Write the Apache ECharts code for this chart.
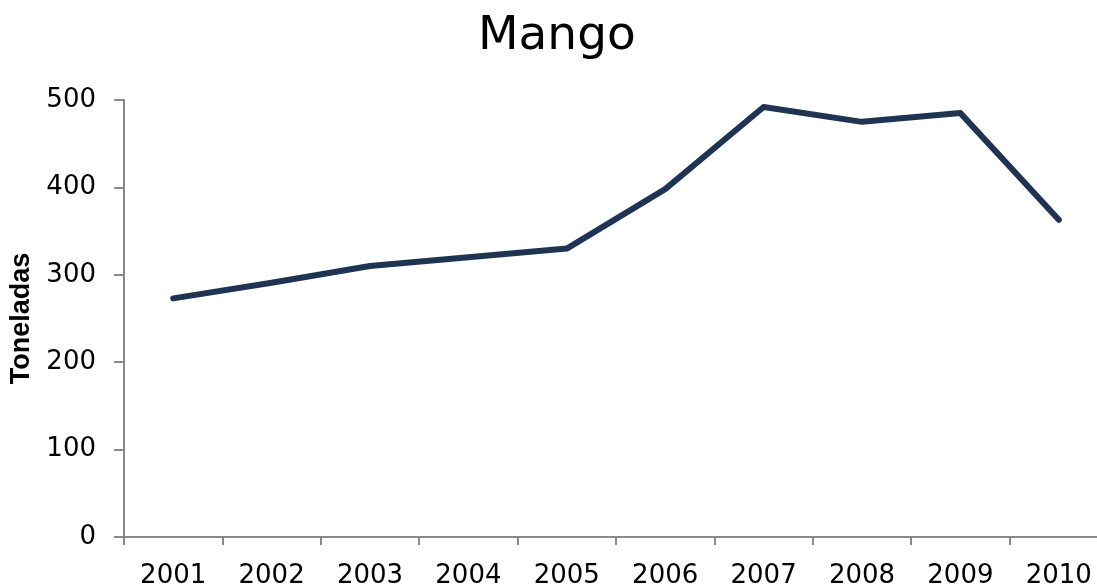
<!DOCTYPE html>
<html>
<head>
<meta charset="utf-8">
<script src="https://cdn.jsdelivr.net/npm/echarts@6/dist/echarts.min.js"></script>
<style>html,body{margin:0;padding:0;background:#fff}#c{width:1097px;height:584px}</style>
</head>
<body>
<div id="c"></div>
<script>
var titleText = 'Mango';
var yName = 'Toneladas';
var categories = ['2001','2002','2003','2004','2005','2006','2007','2008','2009','2010'];
var values = [273, 291, 310, 320, 330, 398, 492, 475, 485, 363];
var yMin = 0, yMax = 500, yInterval = 100;

var chart = echarts.init(document.getElementById('c'));
chart.setOption({
  animation: false,
  backgroundColor: '#ffffff',
  title: {
    text: titleText, left: 473, top: 8,
    textStyle: { fontFamily: 'DejaVu Sans', fontSize: 47, fontWeight: 'normal', color: '#000' }
  },
  grid: { left: 124, top: 100, right: -11, bottom: 47, containLabel: false, outerBoundsMode: 'none' },
  xAxis: {
    type: 'category', data: categories, boundaryGap: true,
    axisLine: { lineStyle: { color: '#898989', width: 2 } },
    axisTick: { show: true, length: 8, alignWithLabel: false, lineStyle: { color: '#898989', width: 2 } },
    axisLabel: { color: '#000', fontFamily: 'DejaVu Sans', fontSize: 26, margin: 26, interval: 0 },
    splitLine: { show: false }
  },
  yAxis: {
    type: 'value', min: yMin, max: yMax, interval: yInterval,
    name: yName, nameLocation: 'middle', nameRotate: 90, nameGap: 88,
    nameTextStyle: { fontFamily: 'Liberation Sans', fontSize: 27, fontWeight: 'bold', color: '#000' },
    axisLine: { show: true, lineStyle: { color: '#898989', width: 2 } },
    axisTick: { show: true, length: 10, lineStyle: { color: '#898989', width: 2 } },
    axisLabel: { color: '#000', fontFamily: 'DejaVu Sans', fontSize: 26, margin: 28 },
    splitLine: { show: false }
  },
  series: [{
    type: 'line', data: values, symbol: 'none',
    lineStyle: { color: '#1F3353', width: 6, cap: 'round', join: 'round' }
  }]
});
</script>
</body>
</html>
